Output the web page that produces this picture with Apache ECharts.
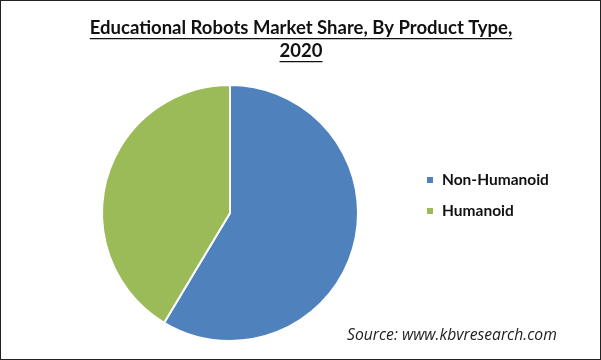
<!DOCTYPE html>
<html><head><meta charset="utf-8">
<script src="https://cdn.jsdelivr.net/npm/echarts@6/dist/echarts.min.js"></script>
<style>
html,body{margin:0;padding:0;background:#fff;}
#c{width:599px;height:358px;border:1px solid #222;}
</style></head>
<body><div id="c"></div>
<script>
const titleLines = ['Educational Robots Market Share, By Product Type,', '2020'];
const categories = ['Non-Humanoid', 'Humanoid'];
const values = [58.6, 41.4];
const colors = ['#4F81BD', '#9BBB59'];
const sourceText = 'Source: www.kbvresearch.com';

const chart = echarts.init(document.getElementById('c'));
const titleFont = 'bold 18.5px Lato';
const ctx = document.createElement('canvas').getContext('2d');
ctx.font = titleFont;
const cx = 300;
const graphics = [];
const lineTops = [18, 41];
titleLines.forEach((t, i) => {
  const w = ctx.measureText(t).width;
  graphics.push({type:'text', x: cx, y: lineTops[i], style:{text:t, font: titleFont, fill:'#111', align:'center', verticalAlign:'top'}});
  graphics.push({type:'rect', shape:{x: cx - w/2, y: lineTops[i] + 19, width: w, height: 1.3}, style:{fill:'#111'}});
});
graphics.push({type:'text', left: 346, top: 327, style:{text: sourceText, font:'italic 15.7px "Open Sans"', fill:'#222'}});

chart.setOption({
  animation:false,
  color: colors,
  graphic: graphics,
  legend: {
    orient:'vertical', left: 424, top: 171, padding: 0,
    itemWidth: 8, itemHeight: 8, itemGap: 15,
    icon: 'rect',
    textStyle:{fontFamily:'Lato', fontWeight:'bold', fontSize:15.5, color:'#111', padding:[0,0,0,3]},
    data: categories
  },
  series: [{
    type:'pie', center:[229, 212], radius: 128, startAngle: 90, clockwise: true,
    label:{show:false}, labelLine:{show:false},
    itemStyle:{borderColor:'#fff', borderWidth:2},
    data: categories.map((c, i) => ({name:c, value: values[i]}))
  }]
});
</script></body></html>
